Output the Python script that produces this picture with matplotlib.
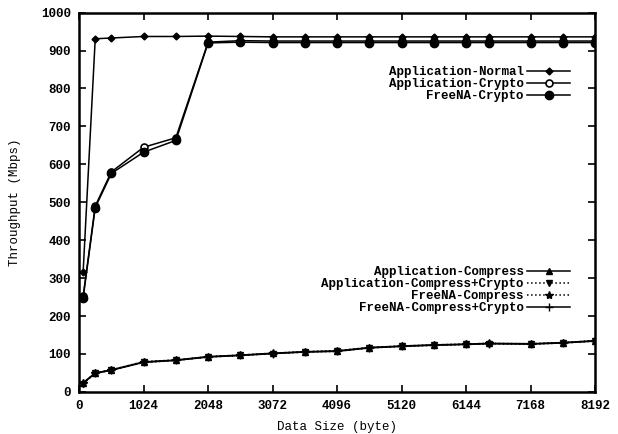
import matplotlib
matplotlib.use("Agg")
import matplotlib.pyplot as plt

plt.rcParams['font.family'] = ['Liberation Mono', 'DejaVu Sans Mono']
plt.rcParams['font.weight'] = 'bold'

# Data sizes (bytes)
sizes = [64, 256, 512, 1024, 1536, 2048, 2560, 3072, 3584, 4096, 4608,
         5120, 5632, 6144, 6500, 7168, 7680, 8192]

app_normal = [316, 931, 933, 937, 937, 938, 937, 936, 936, 936, 936,
              936, 936, 936, 936, 936, 936, 936]
app_crypto = [252, 490, 580, 645, 670, 922, 926, 925, 925, 925, 925,
              925, 925, 925, 925, 925, 925, 925]
freena_crypto = [248, 486, 576, 632, 663, 920, 922, 921, 921, 921, 921,
                 921, 921, 921, 921, 921, 921, 921]

app_compress = [24, 50, 58, 79, 84, 93, 97, 102, 106, 108, 117,
                121, 124, 126, 128, 127, 130, 135]
app_compress_crypto = [22, 49, 57, 78, 83, 92, 96, 101, 105, 107, 116,
                       120, 123, 125, 127, 126, 129, 134]
freena_compress = [24, 50, 58, 80, 84, 93, 97, 102, 106, 109, 117,
                   121, 124, 126, 128, 127, 130, 135]
freena_compress_crypto = [23, 49, 57, 78, 83, 92, 96, 101, 105, 107, 116,
                          120, 123, 125, 127, 126, 129, 134]

labels_top = ['Application-Normal', 'Application-Crypto', 'FreeNA-Crypto']
labels_bot = ['Application-Compress', 'Application-Compress+Crypto',
              'FreeNA-Compress', 'FreeNA-Compress+Crypto']

xticks = [0, 1024, 2048, 3072, 4096, 5120, 6144, 7168, 8192]
yticks = [0, 100, 200, 300, 400, 500, 600, 700, 800, 900, 1000]

fig = plt.figure(figsize=(6.18, 4.34), dpi=100)
ax = fig.add_axes([0.128, 0.097, 0.835, 0.874])

k = dict(color='black', linewidth=1.1)
l1, = ax.plot(sizes, app_normal, marker='D', markersize=3.5, **k)
l2, = ax.plot(sizes, app_crypto, marker='o', markersize=5, markerfacecolor='white',
              markeredgewidth=1.2, **k)
l3, = ax.plot(sizes, freena_crypto, marker=r'$\oplus$', markersize=6, **k)

b1, = ax.plot(sizes, app_compress, marker='^', markersize=4.5, **k)
b2, = ax.plot(sizes, app_compress_crypto, marker='v', markersize=4.5, linestyle=':', **k)
b3, = ax.plot(sizes, freena_compress, marker='*', markersize=6, linestyle=':', **k)
b4, = ax.plot(sizes, freena_compress_crypto, marker='+', markersize=6, **k)

ax.set_xlim(0, 8192)
ax.set_ylim(0, 1000)
ax.set_xticks(xticks)
ax.set_xticklabels([str(v) for v in xticks])
ax.set_yticks(yticks)
ax.set_yticklabels([str(v) for v in yticks])
ax.tick_params(direction='in', top=True, right=True, length=5, width=1.2,
               labelsize=9, pad=6)
for s in ax.spines.values():
    s.set_linewidth(1.8)

ax.set_xlabel('Data Size (byte)', fontsize=9, labelpad=6)
ax.set_ylabel('Throughput (Mbps)', fontsize=9, labelpad=14)

leg_kw = dict(frameon=False, markerfirst=False, fontsize=9, handlelength=3.4,
              handletextpad=0.3, labelspacing=0.0, borderpad=0, borderaxespad=0)
leg1 = ax.legend([l1, l2, l3], labels_top, loc='upper right',
                 bbox_to_anchor=(0.951, 0.858), **leg_kw)
ax.add_artist(leg1)
ax.legend([b1, b2, b3, b4], labels_bot, loc='upper right',
          bbox_to_anchor=(0.951, 0.332), **leg_kw)

fig.savefig('out.png', dpi=100)
